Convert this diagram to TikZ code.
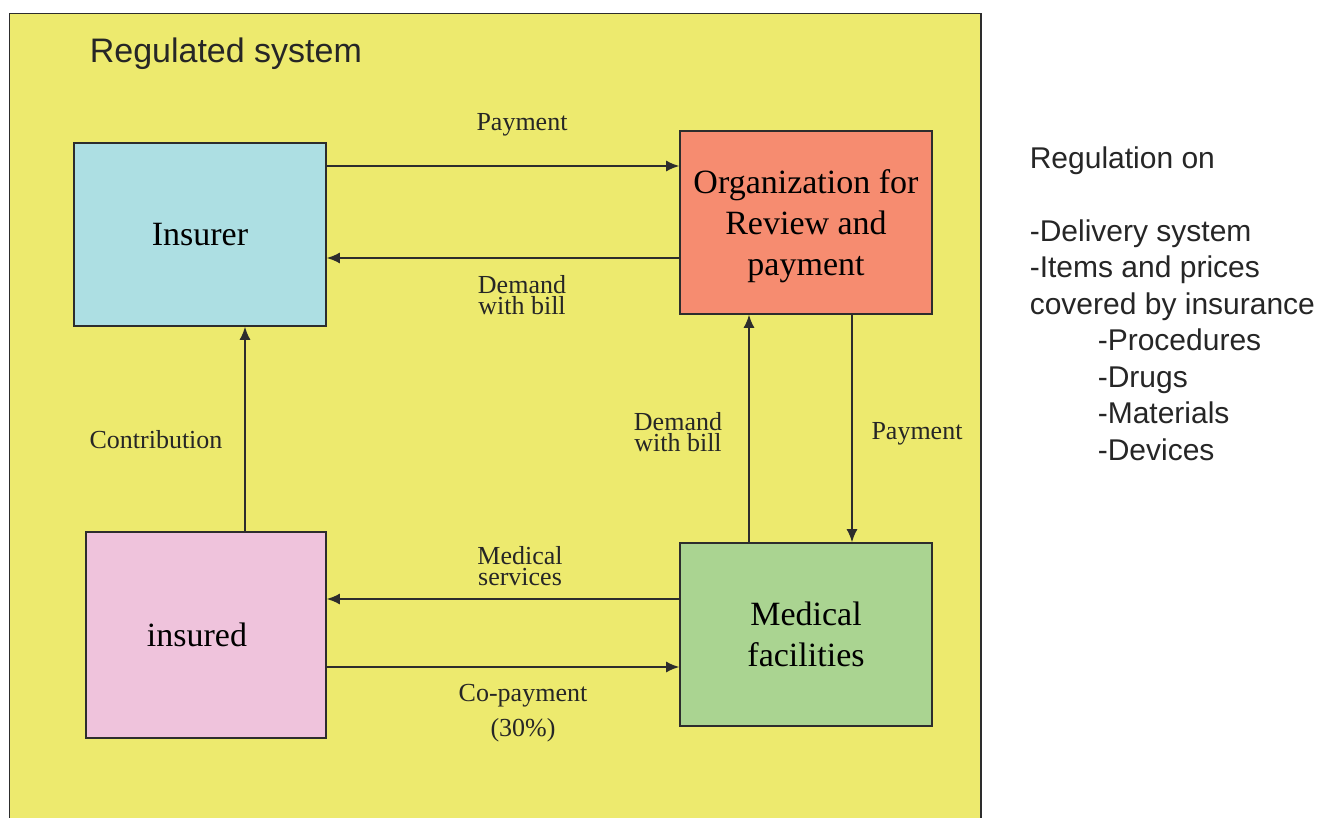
\documentclass[tikz,border=0pt]{standalone}
\usepackage{fontspec}
\setmainfont{Liberation Serif}
\setsansfont{Liberation Sans}
\usetikzlibrary{arrows.meta}

\definecolor{fieldyellow}{RGB}{237,234,110}
\definecolor{insurercyan}{RGB}{173,223,227}
\definecolor{reviewsalmon}{RGB}{246,140,112}
\definecolor{insuredpink}{RGB}{239,195,220}
\definecolor{facilitygreen}{RGB}{170,212,145}
\definecolor{edgegray}{RGB}{45,45,45}

\begin{document}
\begin{tikzpicture}[
    x=1pt, y=-1pt,
    line width=1.6pt,
    >={Latex[length=13pt,width=11pt]},
    party/.style = {
      draw = edgegray,
      rectangle,
      inner sep = 0pt,
      minimum width = 252pt,
      minimum height = 183pt,
      align = center,
      font = \fontsize{34}{41}\selectfont
    },
    flow/.style = {->, draw = edgegray},
    flowlabel/.style = {
      align = center,
      inner sep = 0pt,
      text = black!85,
      font = \fontsize{26}{21.5}\selectfont
    }
  ]
  \useasboundingbox[fill=white] (0,0) rectangle (1320,818);
  \clip (0,0) rectangle (1320,818);

  % the regulated field
  \draw[edgegray, fill=fieldyellow] (9.5,13.5) rectangle (981,840);
  \node[anchor=base west, inner sep=0pt, text=black!85,
        font=\sffamily\fontsize{34}{40}\selectfont] (title) at (89,63) {Regulated system};

  % the four parties
  \node[party, fill=insurercyan, text depth=-6pt] (insurer) at (200,234.5) {Insurer};
  \node[party, fill=reviewsalmon, text depth=-6pt] (review) at (806,222.5) {Organization for\\Review and\\payment};
  \node[party, fill=insuredpink, minimum width=240pt, minimum height=206pt, text depth=-6pt] (insured) at (206,635) {\hspace*{-18pt}insured};
  \node[party, fill=facilitygreen] (medical) at (806,634.5) {Medical\\facilities};

  % insurer <-> review organization
  \coordinate (payA) at ([yshift=68.5pt]insurer.east);
  \draw[flow] (payA) -- (payA -| review.west);
  \coordinate (billA) at ([yshift=-35.5pt]review.west);
  \draw[flow] (billA) -- (billA -| insurer.east);

  % insured -> insurer
  \coordinate (contrib) at ([xshift=39pt]insured.north);
  \draw[flow] (contrib) -- (contrib |- insurer.south);

  % facilities <-> review organization
  \coordinate (billB) at ([xshift=-57pt]medical.north);
  \draw[flow] (billB) -- (billB |- review.south);
  \coordinate (payB) at ([xshift=46pt]review.south);
  \draw[flow] (payB) -- (payB |- medical.north);

  % facilities <-> insured
  \coordinate (service) at ([yshift=35.5pt]medical.west);
  \draw[flow] (service) -- (service -| insured.east);
  \coordinate (copay) at ([yshift=-32pt]insured.east);
  \draw[flow] (copay) -- (copay -| medical.west);

  % flow labels
  \node[flowlabel, anchor=base] (lpayA) at (522,131) {Payment};
  \node[flowlabel] (lbillA) at (522,295) {Demand\\with bill};
  \node[flowlabel, anchor=base] (lcontrib) at (156,448.3) {Contribution};
  \node[flowlabel] (lbillB) at (678,432) {Demand\\with bill};
  \node[flowlabel, anchor=base] (lpayB) at (917,439) {Payment};
  \node[flowlabel] (lservice) at (520,566) {Medical\\services};
  \node[flowlabel] (lcopay) at (523,713) {Co-payment\\[10.5pt](30\%)};

  % what the regulation covers
  \node[anchor=north west, inner sep=0pt, align=left, text=black!85,
        font=\sffamily\fontsize{30}{36.5}\selectfont] (rules) at (1029,145.5)
    {Regulation on\\[36.5pt]
     -Delivery system\\
     -Items and prices\\
     covered by insurance\\
     \hspace*{68pt}-Procedures\\
     \hspace*{68pt}-Drugs\\
     \hspace*{68pt}-Materials\\
     \hspace*{68pt}-Devices};
\end{tikzpicture}
\end{document}
